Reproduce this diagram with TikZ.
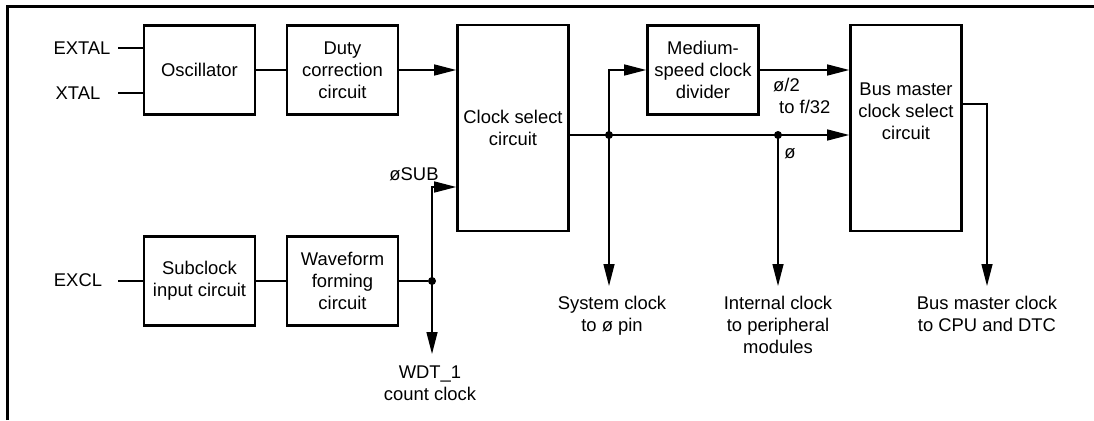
\documentclass[tikz,border=0pt]{standalone}
\usepackage{fontspec}
\setmainfont{Liberation Sans}
\usetikzlibrary{arrows.meta}
\begin{document}
\begin{tikzpicture}[x=1pt,y=-1pt,
 lbl/.style={inner sep=0pt, align=center, font=\fontsize{18.4}{22}\selectfont},
 blk/.style={lbl, draw, line width=2.6pt, minimum width=111pt},
 sblk/.style={blk, minimum height=89pt},
 tblk/.style={blk, minimum height=206pt},
 wire/.style={line width=1.4pt},
 arr/.style={wire, -{Triangle[length=22pt,width=11pt]}},
 dot/.style={circle, fill, inner sep=0pt, minimum size=8pt}
]
\useasboundingbox (0,0) rectangle (1094,420);
\draw[line width=2.6pt] (7.5,420) -- (7.5,6.5) -- (1094,6.5);

% blocks
\node[sblk] (osc) at (199.5,70) {Oscillator};
\node[sblk] (duty) at (342.5,70) {Duty\\correction\\circuit};
\node[tblk] (cs) at (513,128) {Clock select\\circuit};
\node[sblk] (med) at (703,70) {Medium-\\speed clock\\divider};
\node[tblk] (bm) at (906,128) {};
\node[lbl] (bmt) at (906,111) {Bus master\\clock select\\circuit};
\node[sblk] (sub) at (199.5,281) {Subclock\\input circuit};
\node[sblk] (wf) at (342.5,281) {Waveform\\forming\\circuit};

% input labels
\node[lbl] (exl) at (82,48) {EXTAL};
\node[lbl] (xl) at (78,93) {XTAL};
\node[lbl] (ecl) at (78,280) {EXCL};
\coordinate (exin) at (118,48);
\coordinate (xin) at (118,93);
\coordinate (ecin) at (118,281);
\draw[wire] (exin) -- (exin -| osc.west);
\draw[wire] (xin) -- (xin -| osc.west);
\draw[wire] (ecin) -- (ecin -| sub.west);

% main chain
\draw[wire] (osc) -- (duty);
\draw[arr] (duty) -- (duty -| cs.west);
\draw[wire] (sub) -- (wf);

% subclock
\node[dot] (d1) at (432,281) {};
\draw[wire] (wf.east) -- (d1);
\coordinate (sb) at (432,187);
\draw[arr] (d1.center) -- (sb) -- (sb -| cs.west);
\node[lbl] (subl) at (414,174) {øSUB};
\coordinate (wdt) at (432,354);
\draw[arr] (d1.center) -- (wdt);
\node[lbl, anchor=north] (wdtl) at (430,366) {WDT\_1\\count clock};

% clock select output
\node[dot] (d2) at (609,135) {};
\node[dot] (d3) at (778,135) {};
\draw[arr] (d2 -| cs.east) -- (d2 -| bm.west);
\coordinate (m1) at (609,70);
\draw[arr] (d2.center) -- (m1) -- (m1 -| med.west);
\draw[arr] (med.east) -- (med.east -| bm.west);
\node[lbl, align=left, anchor=north west] (divl) at (773,78) {ø/2\\\hspace*{6pt}to f/32};
\node[lbl] (phl) at (790,154) {ø};

\coordinate (sc) at (609,286);
\draw[arr] (d2.center) -- (sc);
\coordinate (ic) at (778,286);
\draw[arr] (d3.center) -- (ic);
\coordinate (bo) at (987,104);
\coordinate (bc) at (987,286);
\draw[arr] (bo -| bm.east) -- (bo) -- (bc);

\node[lbl, anchor=north] (scl) at (612,296) {System clock\\to ø pin};
\node[lbl, anchor=north] (icl) at (778,296) {Internal clock\\to peripheral\\modules};
\node[lbl, anchor=north] (bcl) at (987,296) {Bus master clock\\to CPU and DTC};
\end{tikzpicture}
\end{document}
